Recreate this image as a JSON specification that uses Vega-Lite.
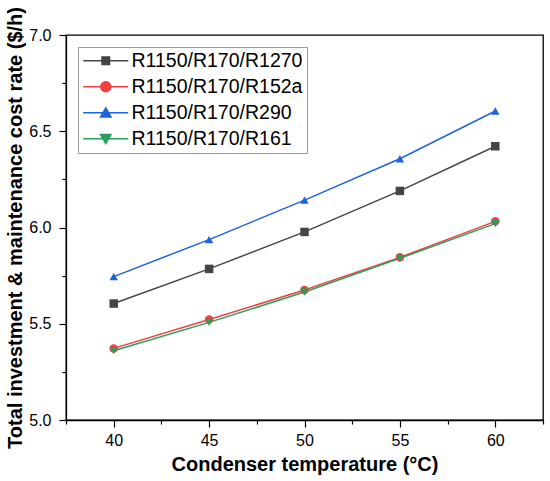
{
  "$schema": "https://vega.github.io/schema/vega-lite/v6.json",
  "width": 477,
  "height": 385,
  "autosize": {"type": "none"},
  "padding": {"left": 66, "top": 35, "right": 7, "bottom": 61},
  "background": "white",
  "data": {
    "values": [
      {"series": "R1150/R170/R1270", "temp": 40, "cost": 5.605},
      {"series": "R1150/R170/R1270", "temp": 45, "cost": 5.785},
      {"series": "R1150/R170/R1270", "temp": 50, "cost": 5.977},
      {"series": "R1150/R170/R1270", "temp": 55, "cost": 6.19},
      {"series": "R1150/R170/R1270", "temp": 60, "cost": 6.422},
      {"series": "R1150/R170/R152a", "temp": 40, "cost": 5.372},
      {"series": "R1150/R170/R152a", "temp": 45, "cost": 5.522},
      {"series": "R1150/R170/R152a", "temp": 50, "cost": 5.675},
      {"series": "R1150/R170/R152a", "temp": 55, "cost": 5.845},
      {"series": "R1150/R170/R152a", "temp": 60, "cost": 6.032},
      {"series": "R1150/R170/R290", "temp": 40, "cost": 5.745},
      {"series": "R1150/R170/R290", "temp": 45, "cost": 5.937},
      {"series": "R1150/R170/R290", "temp": 50, "cost": 6.142},
      {"series": "R1150/R170/R290", "temp": 55, "cost": 6.357},
      {"series": "R1150/R170/R290", "temp": 60, "cost": 6.605},
      {"series": "R1150/R170/R161", "temp": 40, "cost": 5.36},
      {"series": "R1150/R170/R161", "temp": 45, "cost": 5.507},
      {"series": "R1150/R170/R161", "temp": 50, "cost": 5.665},
      {"series": "R1150/R170/R161", "temp": 55, "cost": 5.84},
      {"series": "R1150/R170/R161", "temp": 60, "cost": 6.02}
    ]
  },
  "encoding": {
    "x": {
      "field": "temp",
      "type": "quantitative",
      "scale": {"domain": [37.5, 62.5], "nice": false, "zero": false},
      "title": "Condenser temperature (°C)",
      "axis": {
        "values": [37.5, 40, 42.5, 45, 47.5, 50, 52.5, 55, 57.5, 60, 62.5],
        "labelExpr": "datum.value % 5 == 0 ? datum.label : ''",
        "tickSize": {"condition": {"test": "datum.value % 5 != 0", "value": 4}, "value": 7},
        "labelPadding": 5,
        "titlePadding": 6
      }
    },
    "y": {
      "field": "cost",
      "type": "quantitative",
      "scale": {"domain": [5, 7], "nice": false, "zero": false},
      "title": "Total investment & maintenance cost rate ($/h)",
      "axis": {
        "values": [5, 5.25, 5.5, 5.75, 6, 6.25, 6.5, 6.75, 7],
        "labelExpr": "abs(datum.value * 2 - round(datum.value * 2)) < 0.001 ? format(datum.value, '.1f') : ''",
        "tickSize": {"condition": {"test": "abs(datum.value * 2 - round(datum.value * 2)) > 0.001", "value": 4}, "value": 7},
        "labelPadding": 8,
        "titlePadding": 3
      }
    }
  },
  "layer": [
    {
      "mark": {"type": "line", "strokeWidth": 1.5},
      "encoding": {
        "color": {
          "field": "series",
          "type": "nominal",
          "scale": {
            "domain": ["R1150/R170/R1270", "R1150/R170/R152a", "R1150/R170/R290", "R1150/R170/R161"],
            "range": ["#454545", "#f23f3f", "#1e64e0", "#28a05a"]
          },
          "legend": null
        }
      }
    },
    {
      "mark": {"type": "point", "filled": true, "size": 72, "opacity": 1},
      "encoding": {
        "shape": {
          "field": "series",
          "type": "nominal",
          "scale": {
            "domain": ["R1150/R170/R1270", "R1150/R170/R152a", "R1150/R170/R290", "R1150/R170/R161"],
            "range": ["square", "circle", "triangle-up", "triangle-down"]
          },
          "legend": null
        },
        "color": {"field": "series", "type": "nominal", "legend": null}
      }
    },
    {
      "mark": {"type": "point", "filled": true, "size": 72, "opacity": 0},
      "encoding": {
        "fill": {
          "field": "series",
          "type": "nominal",
          "scale": {
            "domain": ["R1150/R170/R1270", "R1150/R170/R152a", "R1150/R170/R290", "R1150/R170/R161"],
            "range": ["#454545", "#f23f3f", "#1e64e0", "#28a05a"]
          },
          "legend": {"title": null}
        },
        "stroke": {
          "field": "series",
          "type": "nominal",
          "scale": {
            "domain": ["R1150/R170/R1270", "R1150/R170/R152a", "R1150/R170/R290", "R1150/R170/R161"],
            "range": ["#454545", "#f23f3f", "#1e64e0", "#28a05a"]
          },
          "legend": {"title": null}
        },
        "shape": {
          "field": "series",
          "type": "nominal",
          "scale": {
            "domain": ["R1150/R170/R1270", "R1150/R170/R152a", "R1150/R170/R290", "R1150/R170/R161"],
            "range": [
              "M-4.5,0L4.5,0M-0.75,-0.75L0.75,-0.75L0.75,0.75L-0.75,0.75Z",
              "M-4.5,0L4.5,0M-1,0A1,1 0 1,0 1,0A1,1 0 1,0 -1,0Z",
              "M-4.5,0L4.5,0M0,-0.95L1.05,0.85L-1.05,0.85Z",
              "M-4.5,0L4.5,0M0,0.95L1.05,-0.85L-1.05,-0.85Z"
            ]
          },
          "legend": {"title": null}
        }
      }
    }
  ],
  "resolve": {"scale": {"shape": "independent", "fill": "independent", "stroke": "independent"}},
  "config": {
    "view": {"stroke": "black", "strokeWidth": 1.3},
    "font": "Liberation Sans",
    "legend": {
      "orient": "top-left",
      "offset": 12,
      "padding": 4,
      "strokeColor": "#999999",
      "fillColor": "white",
      "symbolSize": 100,
      "symbolOffset": 14,
      "labelOffset": 16,
      "rowPadding": 5,
      "symbolStrokeWidth": 1.5,
      "symbolOpacity": 1,
      "labelFont": "Liberation Sans",
      "labelFontSize": 19.5,
      "labelColor": "black",
      "labelLimit": 400
    },
    "axis": {
      "grid": false,
      "domainColor": "black",
      "domainWidth": 1.3,
      "tickColor": "black",
      "tickWidth": 1.2,
      "labelFont": "Liberation Sans",
      "labelFontSize": 16,
      "labelColor": "black",
      "titleFont": "Liberation Sans",
      "titleFontSize": 20,
      "titleFontWeight": "bold",
      "titleColor": "black",
      "labelFlush": false,
      "labelOverlap": false
    }
  }
}
